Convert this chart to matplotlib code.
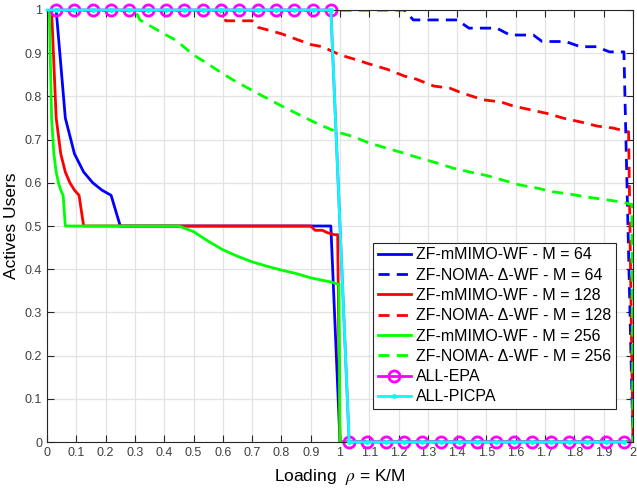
import numpy as np
import matplotlib
matplotlib.use("Agg")
import matplotlib.pyplot as plt

plt.rcParams['font.family'] = ['Liberation Sans', 'DejaVu Sans']
plt.rcParams['mathtext.fontset'] = 'stix'

# ZF-mMIMO-WF curves (solid)
x_mimo64 = [0.03125, 0.0625, 0.09375, 0.125, 0.15625, 0.1875, 0.21875, 0.25, 0.96875, 1.0, 2.0]
y_mimo64 = [1, 0.75, 0.667, 0.625, 0.6, 0.583, 0.571, 0.5, 0.5, 0, 0]

x_mimo128 = [0.015625, 0.03125, 0.046875, 0.0625, 0.078125, 0.09375, 0.109375, 0.125,
             0.90, 0.915, 0.94, 0.955, 0.98, 0.992, 1.0, 2.0]
y_mimo128 = [1, 0.75, 0.667, 0.625, 0.6, 0.583, 0.571, 0.5,
             0.5, 0.49, 0.49, 0.485, 0.48, 0.48, 0, 0]

x_mimo256 = [0.0078, 0.0156, 0.0234, 0.03125, 0.039, 0.047, 0.055, 0.0625,
             0.45, 0.5, 0.55, 0.6, 0.65, 0.7, 0.75, 0.8, 0.85, 0.9, 0.95, 0.972, 0.996, 1.0, 2.0]
y_mimo256 = [1, 0.75, 0.667, 0.625, 0.6, 0.583, 0.571, 0.5,
             0.5, 0.487, 0.465, 0.445, 0.43, 0.417, 0.407, 0.398, 0.39, 0.38, 0.373, 0.37, 0.365, 0, 0]

# ZF-NOMA-Delta-WF curves (dashed)
x_noma64 = [0, 1.22, 1.25, 1.40, 1.44, 1.535, 1.58, 1.66, 1.69, 1.77, 1.82, 1.875, 1.92, 1.969, 2.0]
y_noma64 = [1, 1, 0.977, 0.977, 0.958, 0.958, 0.942, 0.942, 0.927, 0.927, 0.915, 0.915, 0.903, 0.903, 0]

x_noma128 = [0, 0.59, 0.61, 0.7, 0.72, 0.8, 0.86, 0.9, 0.94, 1.0, 1.06, 1.1, 1.16, 1.22, 1.26,
             1.32, 1.375, 1.42, 1.49, 1.55, 1.59, 1.65, 1.71, 1.76, 1.82, 1.88, 1.93, 1.985, 2.0]
y_noma128 = [1, 1, 0.975, 0.975, 0.96, 0.945, 0.93, 0.92, 0.915, 0.896, 0.884, 0.875, 0.863, 0.847, 0.84,
             0.824, 0.819, 0.807, 0.792, 0.787, 0.778, 0.769, 0.76, 0.75, 0.741, 0.731, 0.727, 0.718, 0]

x_noma256 = [0, 0.3, 0.317, 0.396, 0.44, 0.5, 0.545, 0.59, 0.635, 0.716, 0.806, 0.898, 0.932, 0.989,
             1.045, 1.10, 1.16, 1.216, 1.273, 1.33, 1.386, 1.443, 1.50, 1.557, 1.614, 1.671, 1.728,
             1.784, 1.842, 1.898, 1.955, 1.996, 2.0]
y_noma256 = [1, 1, 0.977, 0.946, 0.93, 0.896, 0.877, 0.857, 0.838, 0.808, 0.776, 0.745, 0.734, 0.718,
             0.707, 0.692, 0.68, 0.669, 0.657, 0.646, 0.634, 0.625, 0.617, 0.606, 0.595, 0.588, 0.579,
             0.574, 0.567, 0.562, 0.556, 0.55, 0]

# ALL-EPA / ALL-PICPA
x_all = [0.03125, 0.09375, 0.15625, 0.21875, 0.28125, 0.34375, 0.40625, 0.46875,
         0.53125, 0.59375, 0.65625, 0.71875, 0.78125, 0.84375, 0.90625, 0.96875,
         1.03125, 1.09375, 1.15625, 1.21875, 1.28125, 1.34375, 1.40625, 1.46875,
         1.53125, 1.59375, 1.65625, 1.71875, 1.78125, 1.84375, 1.90625, 1.96875]
y_all = [1] * 16 + [0] * 16

fig = plt.figure(figsize=(6.37, 4.92), dpi=100)
ax = fig.add_axes([0.0738, 0.1016, 0.9199, 0.8781])

lw = 2
dash = (0, (4, 2.6))
ax.plot(x_mimo64, y_mimo64, color='#0000ff', lw=lw, label='ZF-mMIMO-WF - M = 64')
ax.plot(x_noma64, y_noma64, color='#0000ff', lw=lw, ls=dash, label='ZF-NOMA- Δ-WF - M = 64')
ax.plot(x_mimo128, y_mimo128, color='#ff0000', lw=lw, label='ZF-mMIMO-WF - M = 128')
ax.plot(x_noma128, y_noma128, color='#ff0000', lw=lw, ls=dash, label='ZF-NOMA- Δ-WF - M = 128')
ax.plot(x_mimo256, y_mimo256, color='#00ff00', lw=lw, label='ZF-mMIMO-WF - M = 256')
ax.plot(x_noma256, y_noma256, color='#00ff00', lw=lw, ls=dash, label='ZF-NOMA- Δ-WF - M = 256')
ax.plot(x_all, y_all, color='#ff00ff', lw=lw, marker='o', ms=8, mfc='none', mew=2,
        label='ALL-EPA', clip_on=False)
ax.plot([0] + x_all, [1] + y_all, color='#00ffff', lw=lw, marker='.', ms=5,
        markevery=list(range(1, 33)), label='ALL-PICPA', clip_on=False, zorder=3)

ax.set_xlim(0, 2)
ax.set_ylim(0, 1)
xt = np.round(np.arange(0, 2.01, 0.1), 1)
ax.set_xticks(xt)
ax.set_xticklabels(['0' if v == 0 else '1' if v == 1 else '2' if v == 2 else f'{v:g}' for v in xt])
yt = np.round(np.arange(0, 1.01, 0.1), 1)
ax.set_yticks(yt)
ax.set_yticklabels(['0' if v == 0 else '1' if v == 1 else f'{v:g}' for v in yt])
ax.tick_params(direction='in', top=True, right=True, length=5, width=0.8,
               labelsize=9, colors='#262626', labelcolor='#404040')
ax.grid(True, color='#e3e3e3', lw=0.9)
ax.set_axisbelow(True)
for s in ax.spines.values():
    s.set_color('#262626')
    s.set_linewidth(0.8)

ax.set_xlabel(r'Loading  $\rho$ = K/M', fontsize=12.5, labelpad=6)
ax.set_ylabel('Actives Users', fontsize=12.5, labelpad=4)

leg = ax.legend(loc='lower right', bbox_to_anchor=(0.971, 0.076), borderaxespad=0,
                fontsize=11.5, fancybox=False, framealpha=1, edgecolor='#262626',
                handlelength=2.1, handletextpad=0.3, labelspacing=0.33, borderpad=0.3)
leg.get_frame().set_linewidth(0.8)

fig.savefig('out.png', dpi=100)
